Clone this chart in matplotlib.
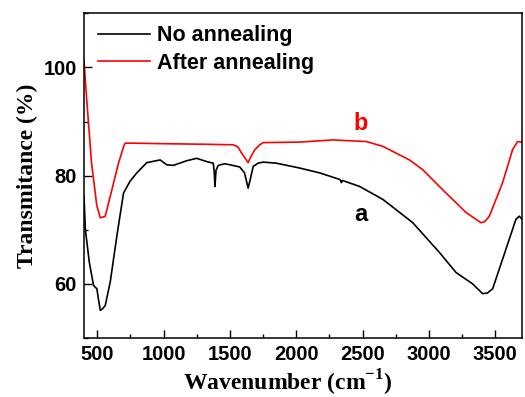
import matplotlib.pyplot as plt
from matplotlib.ticker import MultipleLocator

# FTIR spectra (wavenumber in cm-1, transmitance in %)
wn_no_anneal = [400, 410, 440, 472, 497, 510, 523, 540, 560, 598, 648, 698, 748, 798,
                873, 974, 1024, 1074, 1174, 1249, 1324, 1374, 1382, 1387, 1395, 1412,
                1462, 1500, 1574, 1610, 1637, 1655, 1675, 1712, 1750, 1850, 2026, 2177,
                2327, 2336, 2340, 2348, 2478, 2653, 2878, 3079, 3204, 3329, 3404, 3440,
                3480, 3580, 3655, 3680, 3700]
t_no_anneal = [76.2, 70.1, 64.0, 59.7, 59.1, 57.0, 55.1, 55.4, 56.0, 60.4, 68.9, 76.8, 79.0,
               80.5, 82.4, 82.9, 82.0, 81.9, 82.75, 83.2, 82.6, 82.3, 80.5, 78.0, 81.0, 81.9,
               82.2, 82.0, 81.6, 80.5, 77.7, 79.5, 81.7, 82.3, 82.5, 82.3, 81.4, 80.5,
               79.3, 79.0, 78.7, 79.1, 78.0, 75.6, 71.3, 65.8, 62.1, 60.0, 58.2, 58.3,
               59.1, 66.4, 71.9, 72.5, 72.0]

wn_anneal = [400, 419, 457, 497, 523, 560, 598, 660, 700, 711, 773, 1000, 1300, 1525, 1560,
             1587, 1615, 1637, 1660, 1688, 1725, 1750, 2026, 2277, 2352, 2528, 2653, 2853,
             2953, 3103, 3279, 3392, 3420, 3455, 3555, 3630, 3668, 3700]
t_anneal = [101.3, 94.5, 82.3, 74.4, 72.2, 72.5, 76.2, 82.3, 85.5, 86.0, 86.0, 85.9, 85.8,
            85.7, 85.3, 84.2, 83.2, 82.4, 83.6, 84.8, 85.7, 86.1, 86.2, 86.6, 86.5, 86.3,
            85.4, 82.9, 81.1, 77.4, 73.2, 71.3, 71.5, 72.5, 78.7, 84.8, 86.3, 86.2]

plt.rcParams['mathtext.fontset'] = 'custom'
plt.rcParams['mathtext.rm'] = 'Liberation Serif:bold'
plt.rcParams['mathtext.bf'] = 'Liberation Serif:bold'

serif_bold = {'family': 'Liberation Serif', 'weight': 'bold', 'size': 17}
tick_font = {'family': 'Liberation Sans', 'weight': 'bold', 'size': 14.5}
legend_font = {'family': 'Liberation Sans', 'weight': 'bold', 'size': 15.5}

fig = plt.figure(figsize=(5.25, 3.97), dpi=100)
ax = fig.add_axes([0.16, 0.1486, 0.834, 0.818])

ax.plot(wn_no_anneal, t_no_anneal, color='black', lw=1.2, label='No annealing')
ax.plot(wn_anneal, t_anneal, color='#ff0000', lw=1.2, label='After annealing')

ax.set_xlim(400, 3700)
ax.set_ylim(50, 110)
ax.xaxis.set_major_locator(MultipleLocator(500))
ax.xaxis.set_minor_locator(MultipleLocator(250))
ax.yaxis.set_major_locator(MultipleLocator(20))
ax.yaxis.set_minor_locator(MultipleLocator(10))
ax.tick_params(which='both', direction='in', width=1.0)
ax.tick_params(which='major', length=6, pad=5)
ax.tick_params(which='minor', length=3)
for lbl in ax.get_xticklabels() + ax.get_yticklabels():
    lbl.set_fontproperties(tick_font)
for sp in ax.spines.values():
    sp.set_linewidth(1.1)

ax.set_xlabel('Wavenumber (cm$^{\\mathbf{-1}}$)', fontdict=serif_bold)
ax.xaxis.set_label_coords(0.465, -0.092)
ax.set_ylabel('Transmitance (%)', fontdict=serif_bold, labelpad=4)

ax.text(2485, 89.7, 'b', color='#ff0000', ha='center', va='center', fontdict=legend_font, size=17)
ax.text(2485, 72.8, 'a', color='black', ha='center', va='center', fontdict=legend_font, size=17)

ax.legend(loc='upper left', frameon=False, prop=legend_font, handlelength=2.4,
          handletextpad=0.3, labelspacing=0.3, borderaxespad=0.15,
          bbox_to_anchor=(0.006, 1.0))

fig.savefig('out.png', dpi=100)
